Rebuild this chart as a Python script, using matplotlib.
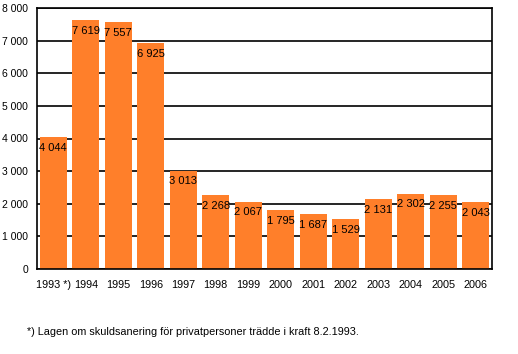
import numpy as np
import matplotlib.pyplot as plt

years = ['1993 *)', '1994', '1995', '1996', '1997', '1998', '1999',
         '2000', '2001', '2002', '2003', '2004', '2005', '2006']
values = [4044, 7619, 7557, 6925, 3013, 2268, 2067,
          1795, 1687, 1529, 2131, 2302, 2255, 2043]
yticks = [0, 1000, 2000, 3000, 4000, 5000, 6000, 7000, 8000]


def fmt(v):
    return '{:,}'.format(v).replace(',', ' ')


fig = plt.figure(figsize=(5.18, 3.54), dpi=100)
ax = fig.add_axes([37 / 518, 1 - 269 / 354, 455 / 518, 261 / 354])

x = np.arange(len(values))
ax.bar(x, values, width=0.83, color='#FF7F2A', zorder=2)
ax.set_xlim(-0.5, len(values) - 0.5)
ax.set_ylim(0, 8000)

for xi, v in zip(x, values):
    ax.text(xi, v - 170, fmt(v), ha='center', va='top', fontsize=8,
            family='Liberation Sans', color='black', zorder=3)

ax.set_yticks(yticks)
ax.set_yticklabels([fmt(t) for t in yticks], fontsize=7.5, family='Liberation Sans')
ax.set_xticks(x)
ax.set_xticklabels(years, fontsize=7.8, family='Liberation Sans')
ax.tick_params(axis='y', length=0, pad=6.5)
ax.tick_params(axis='x', length=0, pad=8)
ax.yaxis.grid(True, color='black', linewidth=1.2, zorder=1)
for s in ax.spines.values():
    s.set_linewidth(1.2)
    s.set_color('black')

fig.text(27 / 518, 1 - 332 / 354, '*) Lagen om skuldsanering för privatpersoner trädde i kraft 8.2.1993.',
         fontsize=7.8, family='Liberation Sans', va='center')

fig.savefig('out.png', dpi=100)
